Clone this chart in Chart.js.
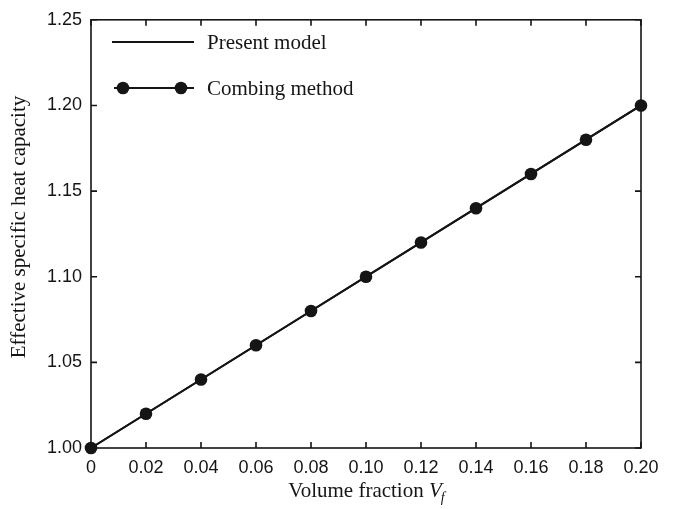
<!DOCTYPE html>
<html>
<head>
<meta charset="utf-8">
<script src="https://cdn.jsdelivr.net/npm/chart.js@4"></script>
<style>
  html, body { margin: 0; padding: 0; background: #fff; }
  #wrap { width: 675px; height: 509px; }
</style>
</head>
<body>
<div id="wrap"><canvas id="chart" width="675" height="509"></canvas></div>
<script>
// ── Data ──
const fractions = [0, 0.02, 0.04, 0.06, 0.08, 0.10, 0.12, 0.14, 0.16, 0.18, 0.20];
const combingValues = [1.00, 1.02, 1.04, 1.06, 1.08, 1.10, 1.12, 1.14, 1.16, 1.18, 1.20];
const modelX = [0, 0.20];
const modelY = [1.00, 1.20];
const xTickLabels = ['0', '0.02', '0.04', '0.06', '0.08', '0.10', '0.12', '0.14', '0.16', '0.18', '0.20'];
const yTickLabels = ['1.00', '1.05', '1.10', '1.15', '1.20', '1.25'];

const INK = '#151515';
const SANS = '"Liberation Sans", Arial, sans-serif';
const SERIF = '"Liberation Serif", "Times New Roman", serif';

// ── Frame, inward ticks, titles and legend ──
const framePlugin = {
    id: 'frame',
    beforeDatasetsDraw(chart) {
        const { ctx, chartArea: a, scales } = chart;
        ctx.save();
        ctx.strokeStyle = INK;
        ctx.lineWidth = 1.6;
        ctx.strokeRect(a.left, a.top, a.right - a.left, a.bottom - a.top);
        const len = 6;
        ctx.beginPath();
        scales.x.ticks.forEach(t => {
            const px = scales.x.getPixelForValue(t.value);
            ctx.moveTo(px, a.bottom); ctx.lineTo(px, a.bottom - len);
            ctx.moveTo(px, a.top); ctx.lineTo(px, a.top + len);
        });
        scales.y.ticks.forEach(t => {
            const py = scales.y.getPixelForValue(t.value);
            ctx.moveTo(a.left, py); ctx.lineTo(a.left + len, py);
            ctx.moveTo(a.right, py); ctx.lineTo(a.right - len, py);
        });
        ctx.stroke();
        ctx.restore();
    },
    afterDraw(chart) {
        const { ctx, chartArea: a } = chart;
        ctx.save();
        ctx.fillStyle = INK;

        // x title with italic V_f
        ctx.textBaseline = 'alphabetic';
        ctx.textAlign = 'left';
        ctx.font = '21px ' + SERIF;
        const main = 'Volume fraction ';
        const wMain = ctx.measureText(main).width;
        ctx.font = 'italic 21px ' + SERIF;
        const wV = ctx.measureText('V').width;
        const total = wMain + wV + 6;
        const x0 = (a.left + a.right) / 2 - total / 2 + 2;
        const base = 497;
        ctx.font = '21px ' + SERIF;
        ctx.fillText(main, x0, base);
        ctx.font = 'italic 21px ' + SERIF;
        ctx.fillText('V', x0 + wMain, base);
        ctx.font = 'italic 14px ' + SERIF;
        ctx.fillText('f', x0 + wMain + wV - 1, base + 5);

        // y title
        ctx.save();
        ctx.translate(19, 227);
        ctx.rotate(-Math.PI / 2);
        ctx.font = '21px ' + SERIF;
        ctx.textAlign = 'center';
        ctx.textBaseline = 'middle';
        ctx.fillText('Effective specific heat capacity', 0, 0);
        ctx.restore();

        // legend
        ctx.strokeStyle = INK;
        ctx.lineWidth = 2;
        ctx.beginPath();
        ctx.moveTo(112, 42); ctx.lineTo(194, 42);
        ctx.moveTo(114, 88); ctx.lineTo(194, 88);
        ctx.stroke();
        [123, 181].forEach(cx => {
            ctx.beginPath();
            ctx.arc(cx, 88, 6.3, 0, Math.PI * 2);
            ctx.fill();
        });
        ctx.font = '21px ' + SERIF;
        ctx.textAlign = 'left';
        ctx.textBaseline = 'middle';
        ctx.fillText('Present model', 207, 43);
        ctx.fillText('Combing method', 207, 89);
        ctx.restore();
    }
};

const ctx = document.getElementById('chart');
new Chart(ctx, {
    type: 'scatter',
    data: {
        datasets: [
            {
                label: 'Present model',
                data: modelX.map((x, i) => ({ x, y: modelY[i] })),
                showLine: true,
                borderColor: INK,
                borderWidth: 2,
                pointRadius: 0,
                clip: false,
            },
            {
                label: 'Combing method',
                data: fractions.map((x, i) => ({ x, y: combingValues[i] })),
                showLine: true,
                borderColor: INK,
                backgroundColor: INK,
                borderWidth: 2,
                pointRadius: 6.3,
                pointBorderWidth: 0,
                pointBackgroundColor: INK,
                clip: false,
            }
        ]
    },
    options: {
        responsive: false,
        animation: false,
        layout: { padding: { top: 14, right: 34, left: 0, bottom: 0 } },
        plugins: { legend: { display: false }, tooltip: { enabled: false } },
        scales: {
            x: {
                type: 'linear',
                min: 0, max: 0.20,
                border: { display: false },
                grid: { display: false, drawTicks: false },
                ticks: {
                    stepSize: 0.02,
                    padding: 9,
                    color: INK,
                    font: { family: SANS, size: 18 },
                    maxRotation: 0,
                    autoSkip: false,
                    callback: (v, i) => xTickLabels[i]
                },
                afterFit: s => { s.height = 61; }
            },
            y: {
                type: 'linear',
                min: 1.00, max: 1.25,
                border: { display: false },
                grid: { display: false, drawTicks: false },
                ticks: {
                    stepSize: 0.05,
                    padding: 9,
                    color: INK,
                    font: { family: SANS, size: 18 },
                    callback: (v, i) => yTickLabels[i]
                },
                afterFit: s => { s.width = 91; }
            }
        }
    },
    plugins: [framePlugin]
});
</script>
</body>
</html>
